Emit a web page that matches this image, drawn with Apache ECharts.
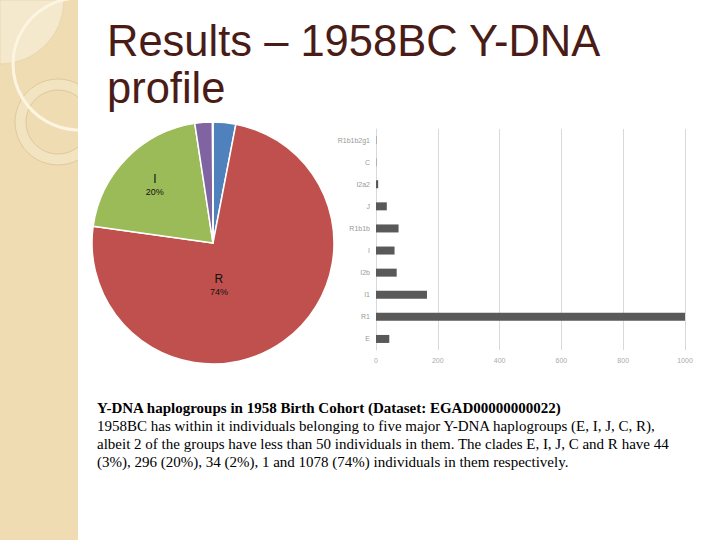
<!DOCTYPE html>
<html>
<head>
<meta charset="utf-8">
<script src="https://cdn.jsdelivr.net/npm/echarts@6/dist/echarts.min.js"></script>
<style>html,body{margin:0;padding:0;background:#fff;}#c{width:720px;height:540px;}</style>
</head>
<body>
<div id="c"></div>
<script>
// Pie: major haplogroups
var pieNames = ['E', 'R', 'I', 'J', 'C'];
var pieValues = [44, 1078, 296, 34, 1];
var pieColors = ['#4f81bd', '#c0504d', '#9bbb59', '#8064a2', '#4bacc6'];
var pieLabelled = ['I', 'R'];

// Bar: sub-haplogroups (bottom to top)
var barCategories = ['E', 'R1', 'I1', 'I2b', 'I', 'R1b1b', 'J', 'I2a2', 'C', 'R1b1b2g1'];
var barValues = [43, 1008, 165, 67, 60, 73, 35, 7, 1, 1];

var titleText = 'Results – 1958BC Y-DNA\nprofile';
var captionBold = 'Y-DNA haplogroups in 1958 Birth Cohort (Dataset: EGAD00000000022)';
var captionLines = [
  '1958BC has within it individuals belonging to five major Y-DNA haplogroups (E, I, J, C, R),',
  'albeit 2 of the groups have less than 50 individuals in them. The clades E, I, J, C and R have 44',
  '(3%), 296 (20%), 34 (2%), 1 and 1078 (74%) individuals in them respectively.'
];

var total = pieValues.reduce(function (a, b) { return a + b; }, 0);
var pieData = pieNames.map(function (n, i) {
  return {
    name: n, value: pieValues[i],
    itemStyle: { color: pieColors[i] },
    label: { show: pieLabelled.indexOf(n) >= 0 }
  };
});
var labelShift = { I: [-13, -13], R: [-31, -10] };

var chart = echarts.init(document.getElementById('c'), null, { renderer: 'svg' });
chart.setOption({
  backgroundColor: '#ffffff',
  animation: false,
  graphic: [
    { type: 'rect', z: -10, shape: { x: 0, y: 0, width: 78, height: 540 }, style: { fill: '#efdcb3' } },
    { type: 'sector', z: -9, shape: { cx: 0, cy: 0, r: 64, startAngle: 0, endAngle: Math.PI / 2 }, style: { fill: '#f4e8cd', stroke: '#e2cfa3', lineWidth: 0.6 } },
    { type: 'ring', z: -8, shape: { cx: 58, cy: 122, r: 43, r0: 32 }, style: { fill: '#f2e3c1', stroke: '#d6bf8e', lineWidth: 0.7 } },
    { type: 'circle', z: -7, shape: { cx: 79, cy: 64, r: 66 }, style: { fill: 'none', stroke: '#fcf5e2', lineWidth: 3 } },
    { type: 'rect', z: -6, shape: { x: 78, y: 0, width: 642, height: 540 }, style: { fill: '#ffffff' } }
  ],
  title: [
    {
      text: titleText, left: 107, top: 17, padding: 0,
      textStyle: {
        fontFamily: 'Liberation Sans', fontSize: 43.5, fontWeight: 'normal', color: '#4a1c17',
        lineHeight: 47, textShadowColor: 'rgba(190,175,170,0.6)', textShadowOffsetX: 1, textShadowOffsetY: 1, textShadowBlur: 0
      }
    },
    {
      text: '{b|' + captionBold + '}\n' + captionLines.map(function (l) { return '{n|' + l + '}'; }).join('\n'),
      left: 97, top: 399, padding: 0,
      textStyle: {
        fontWeight: 'normal',
        rich: {
          b: { fontFamily: 'Liberation Serif', fontSize: 15, fontWeight: 'bold', color: '#000', lineHeight: 18 },
          n: { fontFamily: 'Liberation Serif', fontSize: 15, fontWeight: 'normal', color: '#000', lineHeight: 18 }
        }
      }
    }
  ],
  grid: { left: 376, top: 129, width: 309, height: 221, containLabel: false },
  xAxis: {
    type: 'value', min: 0, max: 1000, interval: 200,
    axisLine: { show: false }, axisTick: { show: false },
    splitLine: { lineStyle: { color: '#d9d9d9', width: 1 } },
    axisLabel: { fontFamily: 'Liberation Sans', fontSize: 7, color: '#aaa', margin: 7, formatter: function (v) { return String(v); } }
  },
  yAxis: {
    type: 'category', data: barCategories,
    axisLine: { show: true, lineStyle: { color: '#d9d9d9' } }, axisTick: { show: false },
    axisLabel: { fontFamily: 'Liberation Sans', fontSize: 7, color: '#999', margin: 6 }
  },
  series: [
    {
      type: 'bar', data: barValues, barWidth: 8,
      itemStyle: { color: '#595959' }, silent: true
    },
    {
      type: 'pie', center: [213, 243], radius: 121, startAngle: 90, clockwise: true,
      data: pieData, silent: true,
      itemStyle: { borderColor: '#ffffff', borderWidth: 1.5 },
      label: {
        position: 'inside',
        formatter: function (p) { return '{n|' + p.name + '}\n{p|' + Math.round(p.value / total * 100) + '%}'; },
        rich: {
          n: { fontFamily: 'Liberation Sans', fontSize: 12, color: '#111', lineHeight: 14, align: 'center' },
          p: { fontFamily: 'Liberation Sans', fontSize: 9, color: '#111', lineHeight: 12, align: 'center' }
        }
      },
      labelLine: { show: false },
      labelLayout: function (params) {
        var n = pieNames[params.dataIndex];
        var s = labelShift[n] || [0, 0];
        return { dx: s[0], dy: s[1] };
      }
    }
  ]
});
</script>
</body>
</html>
